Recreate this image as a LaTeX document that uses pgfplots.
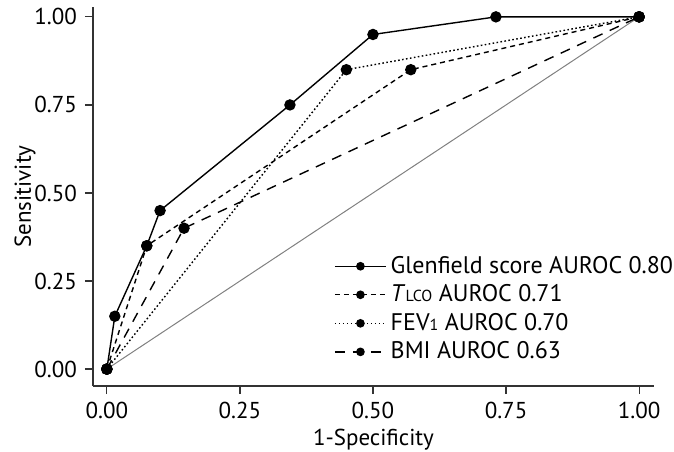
\documentclass[border=0pt]{standalone}
\usepackage{pgfplots}
\pgfplotsset{compat=1.18}
\usetikzlibrary{calc}
\usepackage{fontspec}
\setmainfont{PT Sans}
\begin{document}
\fontsize{11.5}{13}\selectfont
\begin{tikzpicture}
\useasboundingbox (-46.5pt,-32.5pt) rectangle (290.5pt,193pt);
\begin{axis}[scale only axis,width=280.5pt,height=189.5pt,
  xmin=-0.026,xmax=1.028,ymin=-0.048,ymax=1.028,
  axis lines*=left,
  axis line style={line width=0.8pt,black!80},
  tick style={line width=0.6pt,black!80},
  tick align=outside,major tick length=4pt,
  xtick={0,0.25,0.5,0.75,1},ytick={0,0.25,0.5,0.75,1},
  /pgf/number format/assume math mode=true,
  xticklabel style={/pgf/number format/.cd,fixed,fixed zerofill,precision=2},
  yticklabel style={/pgf/number format/.cd,fixed,fixed zerofill,precision=2},
  xlabel={1-Specificity},ylabel={Sensitivity},
  every axis x label/.style={at={($(axis description cs:0.5,0)+(0,-27pt)$)},anchor=center},
  every axis y label/.style={at={($(axis description cs:0,0.5)+(-34pt,0)$)},anchor=center,rotate=90},
  clip=false,
  legend cell align=left,
  legend style={draw=none,fill=none,at={(axis cs:0.415,0.345)},anchor=north west,
    row sep=0pt,font=\fontsize{12}{13}\selectfont},
  legend image code/.code={\draw[mark repeat=2,mark phase=2,#1,mark size=1.8pt] plot coordinates {(0cm,0cm)(0.45cm,0cm)(0.9cm,0cm)};},
  every axis plot/.append style={line width=0.7pt,black,mark=*,mark size=2.5pt,
    mark options={solid,fill=black}}]
\addplot[gray,line width=0.5pt,no marks,forget plot] coordinates {(0,0)(1,1)};
\addplot[solid] coordinates {(0,0)(0.015,0.15)(0.075,0.35)(0.1,0.45)(0.344,0.75)(0.5,0.95)(0.731,1)(1,1)};
\addlegendentry{Glenfield score AUROC 0.80}
\addplot[dash pattern=on 2.5pt off 2pt] coordinates {(0,0)(0.075,0.35)(0.571,0.85)(1,1)};
\addlegendentry{\textit{T}{\fontsize{8}{9}\selectfont LCO} AUROC 0.71}
\addplot[dash pattern=on 0.8pt off 1.2pt] coordinates {(0,0)(0.45,0.85)(1,1)};
\addlegendentry{FEV{\fontsize{8}{9}\selectfont 1} AUROC 0.70}
\addplot[dash pattern=on 5pt off 4pt] coordinates {(0,0)(0.145,0.40)(1,1)};
\addlegendentry{BMI AUROC 0.63}
\end{axis}
\end{tikzpicture}
\end{document}
